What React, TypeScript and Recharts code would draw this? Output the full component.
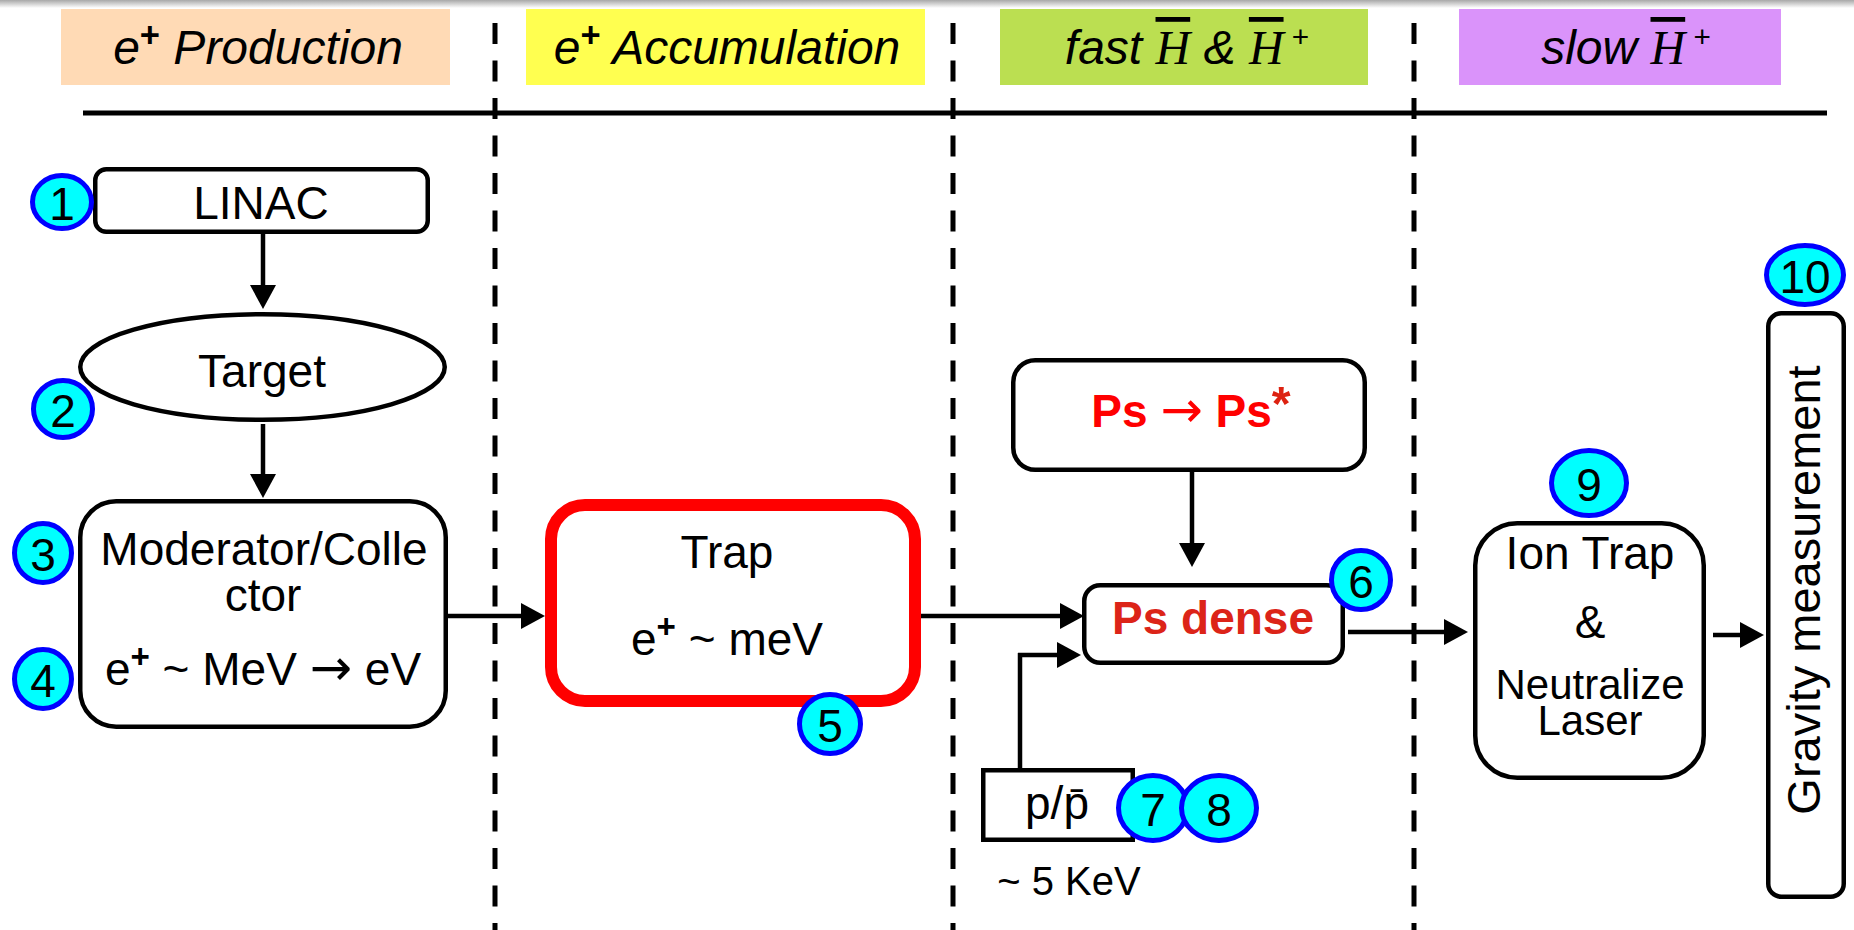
import React from 'react';
import { ScatterChart, Scatter, XAxis, YAxis, ReferenceArea, ReferenceLine } from 'recharts';

const CHART_W = 1854;
const CHART_H = 930;
const SANS = '"Liberation Sans", Arial, Helvetica, sans-serif';
const SERIF = '"Liberation Serif", "Times New Roman", serif';
const ARROWFONT = '"DejaVu Sans", "Noto Sans", sans-serif';

// ---------- data ----------
type Seg = { t: string; sup?: boolean; b?: boolean; i?: boolean; serif?: boolean; arrow?: boolean; over?: boolean; fill?: string; rel?: number; lift?: number };
type Label = { x: number; y: number; segs: Seg[]; size: number; b?: boolean; i?: boolean; fill?: string; rotate?: boolean };

// stage header bands
const stageX1 = [61, 526, 1000, 1459];
const stageX2 = [450, 925, 1368, 1781];
const stageY1 = 9;
const stageY2 = 85;
const stageColors = ['#FFDAB5', '#FFFF50', '#BBDF51', '#DA93FA'];

// divider lines
const dividerX = [495, 953, 1414];
const dividerY1 = 23;
const dividerY2 = 930;
const ruleX1 = 83;
const ruleX2 = 1827;
const ruleY = 113;

// boxes
type Box = { id: string; x1: number; x2: number; y1: number; y2: number; r: number; ellipse?: boolean };
const boxes: Box[] = [
  { id: 'linac', x1: 93, x2: 430, y1: 167, y2: 234, r: 11 },
  { id: 'target', x1: 78, x2: 447, y1: 312, y2: 422, r: 0, ellipse: true },
  { id: 'moderator', x1: 78, x2: 448, y1: 499, y2: 729, r: 36 },
  { id: 'trap', x1: 545, x2: 921, y1: 499, y2: 707, r: 34 },
  { id: 'psStar', x1: 1011, x2: 1367, y1: 358, y2: 472, r: 22 },
  { id: 'psDense', x1: 1082, x2: 1345, y1: 583, y2: 665, r: 16 },
  { id: 'pbar', x1: 981, x2: 1135, y1: 768, y2: 842, r: 0 },
  { id: 'ionTrap', x1: 1473, x2: 1706, y1: 521, y2: 780, r: 42 },
  { id: 'gravity', x1: 1766, x2: 1846, y1: 311, y2: 899, r: 13 },
];

// numbered badges
const badgeLabels = ['1', '2', '3', '4', '5', '6', '7', '8', '9', '10'];
const badgeCX = [62, 63, 43, 43, 830, 1361, 1153, 1219, 1589, 1805];
const badgeCY = [202, 409, 553, 679, 724, 580, 808, 808, 483, 275];
const badgeRX = [32, 32, 31, 31, 33, 32, 37, 40, 40, 41];
const badgeRY = [29, 31, 32, 32, 32, 32, 35, 35, 35, 32];

// arrows
type Arrow = { x1: number; y1: number; x2: number; y2: number; head: boolean };
const arrows: Arrow[] = [
  { x1: 263, y1: 234, x2: 263, y2: 309, head: true },
  { x1: 263, y1: 424, x2: 263, y2: 498, head: true },
  { x1: 448, y1: 616, x2: 545, y2: 616, head: true },
  { x1: 921, y1: 616, x2: 1084, y2: 616, head: true },
  { x1: 1192, y1: 472, x2: 1192, y2: 567, head: true },
  { x1: 1020, y1: 770, x2: 1020, y2: 653, head: false },
  { x1: 1018, y1: 655, x2: 1081, y2: 655, head: true },
  { x1: 1348, y1: 632, x2: 1468, y2: 632, head: true },
  { x1: 1713, y1: 635, x2: 1764, y2: 635, head: true },
];

// text labels
const labels: Label[] = [
  { x: 258, y: 64, size: 48, i: true, segs: [{ t: 'e' }, { t: '+', sup: true, b: true, i: false, rel: 0.72 }, { t: ' Production' }] },
  { x: 727, y: 64, size: 48, i: true, segs: [{ t: 'e' }, { t: '+', sup: true, b: true, i: false, rel: 0.72 }, { t: ' Accumulation' }] },
  { x: 1187, y: 64, size: 48, i: true, segs: [{ t: 'fast ' }, { t: 'H', serif: true, over: true }, { t: ' & ' }, { t: 'H', serif: true, over: true }, { t: ' +', sup: true, i: false }] },
  { x: 1626, y: 64, size: 48, i: true, segs: [{ t: 'slow ' }, { t: 'H', serif: true, over: true }, { t: ' +', sup: true, i: false }] },
  { x: 261, y: 219, size: 46, segs: [{ t: 'LINAC' }] },
  { x: 262, y: 387, size: 46, segs: [{ t: 'Target' }] },
  { x: 264, y: 565, size: 46, segs: [{ t: 'Moderator/Colle' }] },
  { x: 263, y: 611, size: 46, segs: [{ t: 'ctor' }] },
  { x: 263, y: 685, size: 46, segs: [{ t: 'e' }, { t: '+', sup: true, b: true, rel: 0.72 }, { t: ' ~ MeV ' }, { t: '\u2192', arrow: true, rel: 1.1 }, { t: ' eV' }] },
  { x: 727, y: 568, size: 46, segs: [{ t: 'Trap' }] },
  { x: 727, y: 655, size: 46, segs: [{ t: 'e' }, { t: '+', sup: true, b: true, rel: 0.72 }, { t: ' ~ meV' }] },
  { x: 1191, y: 427, size: 46, b: true, fill: '#FF0000', segs: [{ t: 'Ps ' }, { t: '\u2192', b: false, arrow: true, rel: 1.1 }, { t: ' Ps' }, { t: '*', sup: true, rel: 1.05, lift: 0.16, fill: '#DD2211' }] },
  { x: 1213, y: 634, size: 46, b: true, fill: '#DC2418', segs: [{ t: 'Ps dense' }] },
  { x: 1057, y: 819, size: 46, segs: [{ t: 'p/p\u0304' }] },
  { x: 1069, y: 895, size: 40, segs: [{ t: '~ 5 KeV' }] },
  { x: 1590, y: 569, size: 46, segs: [{ t: 'Ion Trap' }] },
  { x: 1590, y: 638, size: 46, segs: [{ t: '&' }] },
  { x: 1590, y: 699, size: 42, segs: [{ t: 'Neutralize' }] },
  { x: 1590, y: 735, size: 42, segs: [{ t: 'Laser' }] },
  { x: 1820, y: 590, size: 47, rotate: true, segs: [{ t: 'Gravity measurement' }] },
];

// ---------- styles ----------
const LINE_W = 4.5;
const BOX_W = 4.5;
const TRAP_W = 12;
const BADGE_FILL = '#00FFFF';
const BADGE_STROKE = '#0000FF';

// ---------- renderers ----------
function renderLabel(cx: number, cy: number, L: Label) {
  let raised = 0;
  const kids = L.segs.map((s, k) => {
    const rel = s.rel ?? (s.sup ? 0.62 : 1);
    const target = s.sup ? -Math.round(L.size * (s.lift ?? 0.36)) : 0;
    const dy = target - raised;
    raised = target;
    const bold = s.b ?? L.b;
    const ital = s.i ?? L.i;
    const fam = s.arrow ? ARROWFONT : s.serif ? SERIF : SANS;
    return (
      <tspan
        key={k}
        dy={dy !== 0 ? dy : undefined}
        fontSize={L.size * rel}
        fontWeight={bold ? 700 : 400}
        fontStyle={ital ? 'italic' : 'normal'}
        fontFamily={fam}
        fill={s.fill ?? L.fill ?? '#000'}
        style={s.over ? { textDecoration: 'overline' } : undefined}
      >
        {s.t}
      </tspan>
    );
  });
  return (
    <text
      x={cx}
      y={cy}
      textAnchor="middle"
      fontFamily={SANS}
      fontSize={L.size}
      style={{ whiteSpace: 'pre' }}
      transform={L.rotate ? `rotate(-90 ${cx} ${cy})` : undefined}
    >
      {kids}
    </text>
  );
}

function boxShape(p: any, b: Box) {
  const isTrap = b.id === 'trap';
  const sw = isTrap ? TRAP_W : BOX_W;
  const stroke = isTrap ? '#FF0000' : '#000';
  const inset = sw / 2;
  if (b.ellipse) {
    return (
      <ellipse
        cx={p.x + p.width / 2}
        cy={p.y + p.height / 2}
        rx={p.width / 2 - inset}
        ry={p.height / 2 - inset}
        fill="#fff"
        stroke={stroke}
        strokeWidth={sw}
      />
    );
  }
  return (
    <rect
      x={p.x + inset}
      y={p.y + inset}
      width={p.width - sw}
      height={p.height - sw}
      rx={b.r}
      ry={b.r}
      fill="#fff"
      stroke={stroke}
      strokeWidth={sw}
    />
  );
}

function arrowShape(p: any, a: Arrow) {
  const { x1, y1, x2, y2 } = p;
  const dx = x2 - x1;
  const dy = y2 - y1;
  const len = Math.hypot(dx, dy) || 1;
  const ux = dx / len;
  const uy = dy / len;
  const hl = a.head ? 24 : 0;
  const hw = 13;
  const bx = x2 - ux * hl;
  const by = y2 - uy * hl;
  return (
    <g>
      <line
        x1={x1}
        y1={y1}
        x2={a.head ? bx + ux * 2 : x2}
        y2={a.head ? by + uy * 2 : y2}
        stroke="#000"
        strokeWidth={LINE_W}
      />
      {a.head && (
        <polygon
          points={`${x2},${y2} ${bx - uy * hw},${by + ux * hw} ${bx + uy * hw},${by - ux * hw}`}
          fill="#000"
        />
      )}
    </g>
  );
}

export default function App() {
  return (
    <div style={{ position: 'fixed', left: 0, top: 0, width: CHART_W, height: CHART_H, background: '#fff', overflow: 'hidden' }}>
      <ScatterChart width={CHART_W} height={CHART_H} margin={{ top: 0, right: 0, bottom: 0, left: 0 }}>
        <XAxis type="number" dataKey="x" domain={[0, CHART_W]} hide allowDataOverflow />
        <YAxis type="number" dataKey="y" domain={[0, CHART_H]} reversed hide allowDataOverflow />

        {/* top shading band */}
        <ReferenceArea
          x1={0}
          x2={CHART_W}
          y1={0}
          y2={8}
          ifOverflow="visible"
          shape={(p: any) => (
            <g>
              <defs>
                <linearGradient id="topShade" x1="0" y1="0" x2="0" y2="1">
                  <stop offset="0%" stopColor="#A8A8A8" />
                  <stop offset="100%" stopColor="#FFFFFF" />
                </linearGradient>
              </defs>
              <rect x={p.x} y={p.y} width={p.width} height={p.height} fill="url(#topShade)" />
            </g>
          )}
        />

        {stageX1.map((x1, k) => (
          <ReferenceArea
            key={`stage-${k}`}
            x1={x1}
            x2={stageX2[k]}
            y1={stageY1}
            y2={stageY2}
            ifOverflow="visible"
            shape={(p: any) => <rect x={p.x} y={p.y} width={p.width} height={p.height} fill={stageColors[k]} />}
          />
        ))}

        <ReferenceLine
          segment={[{ x: ruleX1, y: ruleY }, { x: ruleX2, y: ruleY }]}
          ifOverflow="visible"
          shape={(p: any) => <line x1={p.x1} y1={p.y1} x2={p.x2} y2={p.y2} stroke="#000" strokeWidth={5} />}
        />

        {dividerX.map((x, k) => (
          <ReferenceLine
            key={`div-${k}`}
            segment={[{ x, y: dividerY1 }, { x, y: dividerY2 }]}
            ifOverflow="visible"
            shape={(p: any) => (
              <line x1={p.x1} y1={p.y1} x2={p.x2} y2={p.y2} stroke="#000" strokeWidth={5} strokeDasharray="21 16.5" />
            )}
          />
        ))}

        {arrows.map((a, k) => (
          <ReferenceLine
            key={`arrow-${k}`}
            segment={[{ x: a.x1, y: a.y1 }, { x: a.x2, y: a.y2 }]}
            ifOverflow="visible"
            shape={(p: any) => arrowShape(p, a)}
          />
        ))}

        {boxes.map((b) => (
          <ReferenceArea
            key={`box-${b.id}`}
            x1={b.x1}
            x2={b.x2}
            y1={b.y1}
            y2={b.y2}
            ifOverflow="visible"
            shape={(p: any) => boxShape(p, b)}
          />
        ))}

        {badgeLabels.map((lab, k) => (
          <ReferenceArea
            key={`badge-${k}`}
            x1={badgeCX[k] - badgeRX[k]}
            x2={badgeCX[k] + badgeRX[k]}
            y1={badgeCY[k] - badgeRY[k]}
            y2={badgeCY[k] + badgeRY[k]}
            ifOverflow="visible"
            shape={(p: any) => {
              const cx = p.x + p.width / 2;
              const cy = p.y + p.height / 2;
              return (
                <g>
                  <ellipse cx={cx} cy={cy} rx={p.width / 2 - 2.5} ry={p.height / 2 - 2.5} fill={BADGE_FILL} stroke={BADGE_STROKE} strokeWidth={5} />
                  <text x={cx} y={cy + 18} textAnchor="middle" fontFamily={SANS} fontSize={46} fill="#000">
                    {lab}
                  </text>
                </g>
              );
            }}
          />
        ))}

        <Scatter
          data={labels}
          isAnimationActive={false}
          shape={(p: any) => renderLabel(p.cx, p.cy, p.payload as Label)}
        />
      </ScatterChart>
    </div>
  );
}
